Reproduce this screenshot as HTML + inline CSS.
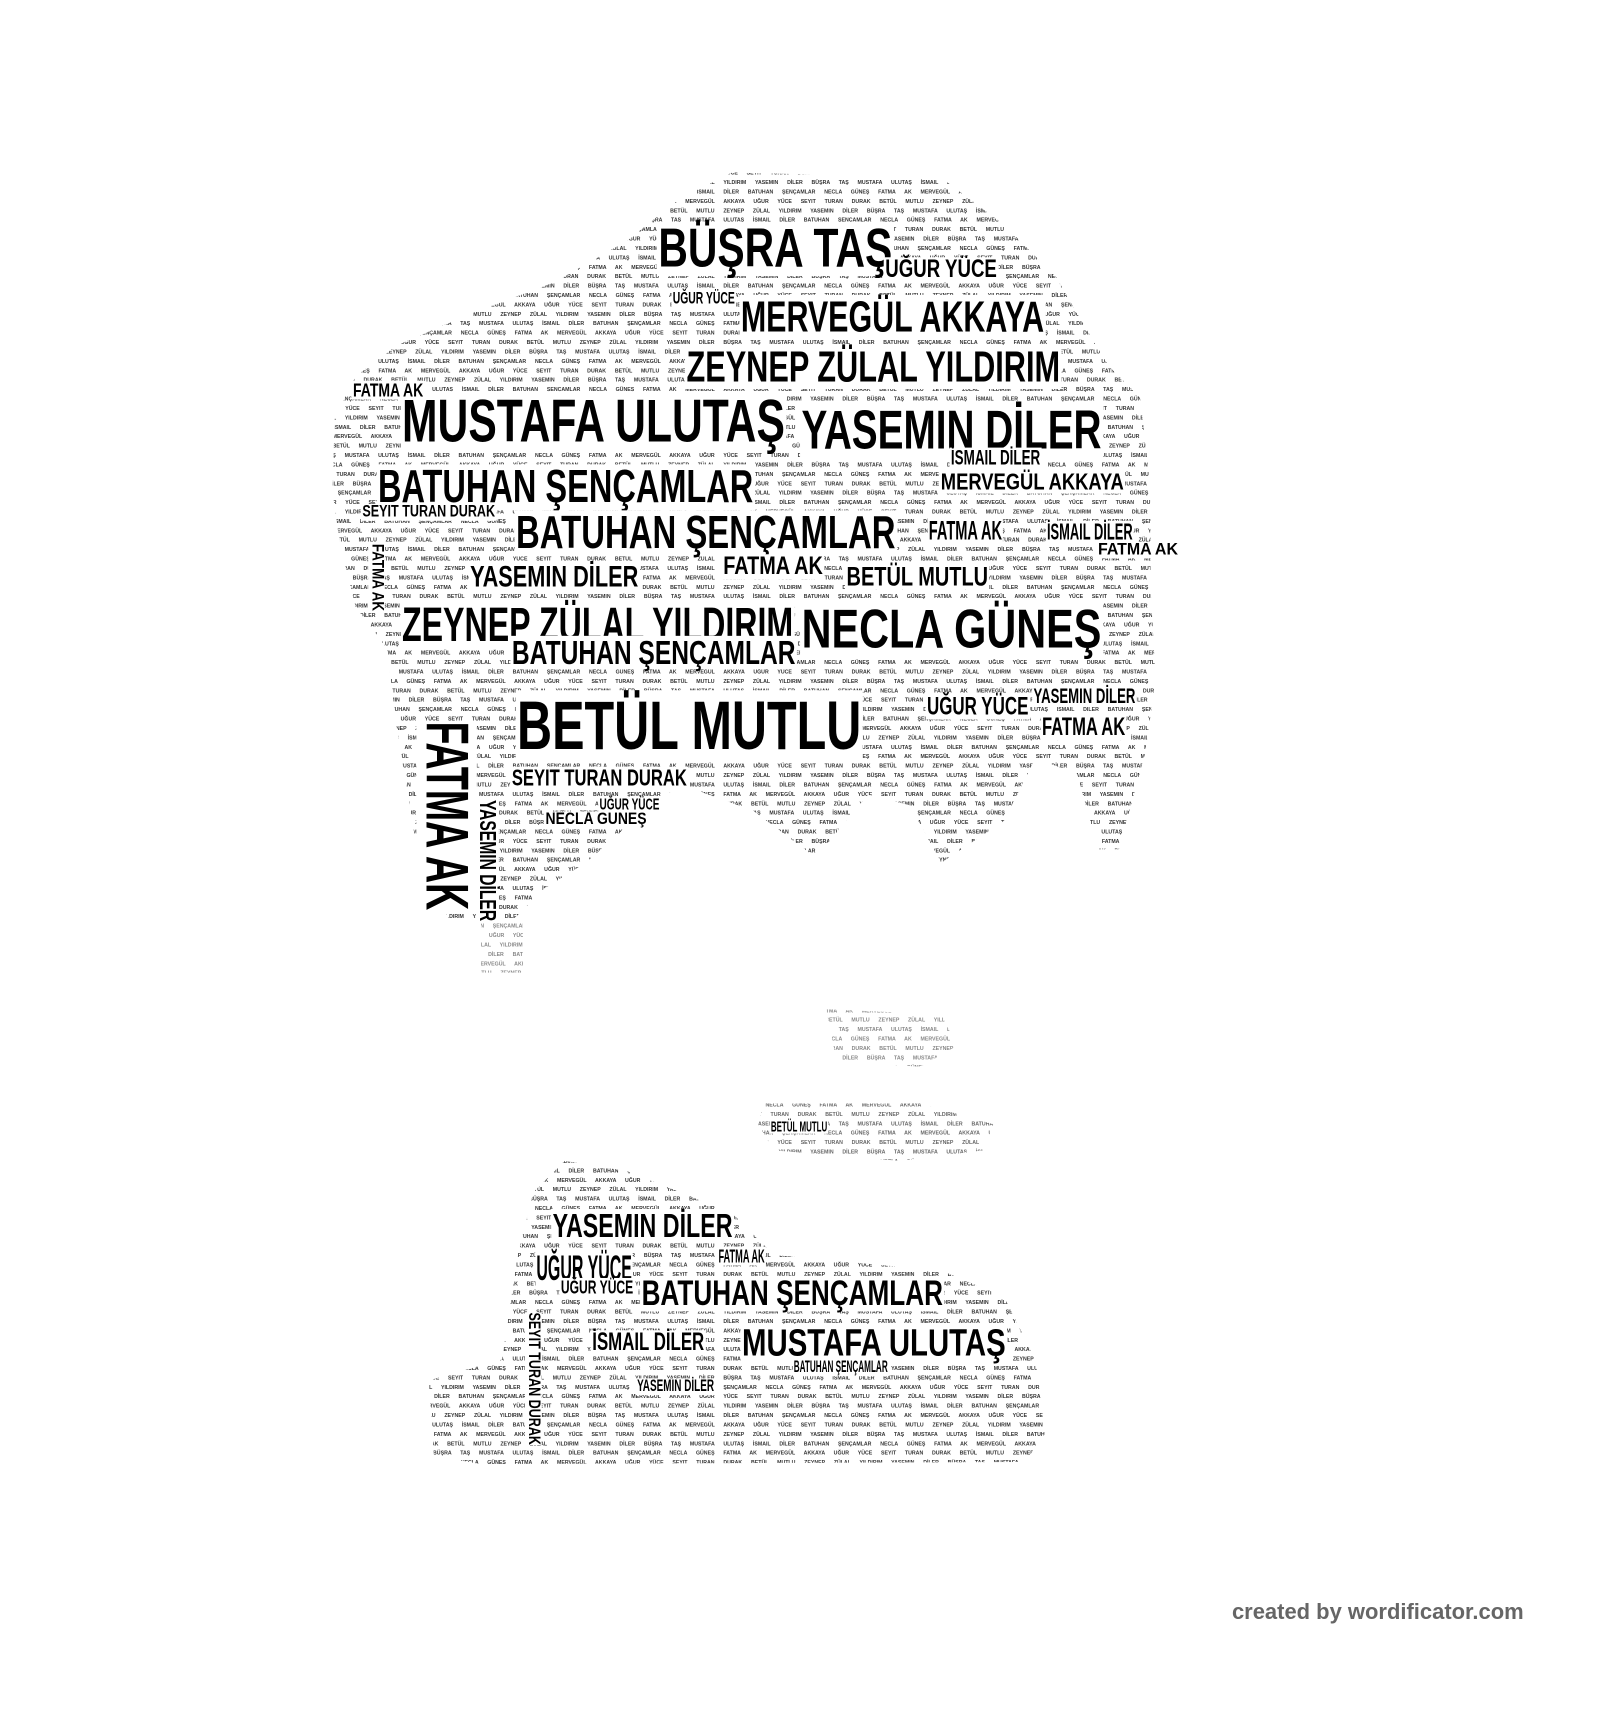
<!DOCTYPE html>
<html><head><meta charset="utf-8">
<style>
html,body{margin:0;padding:0;background:#fff;}
body{width:1600px;height:1640px;position:relative;overflow:hidden;font-family:"Liberation Sans",Arial,sans-serif;font-weight:bold;}
#s{position:absolute;left:0;top:0;width:1600px;height:1640px;transform-origin:0 0;transform:scale(1.0458);}
.f{position:absolute;left:0;top:0;width:1600px;height:1640px;font-size:5px;line-height:9px;color:#333;word-spacing:7px;overflow:hidden;}
.w{position:absolute;white-space:nowrap;line-height:1;background:#fff;color:#000;transform-origin:0 0;padding:0 2px;}
.v{position:absolute;white-space:nowrap;line-height:1;color:#000;}
.foot{position:absolute;left:1178px;top:1530px;font-size:21px;color:#666;font-weight:bold;}
</style></head><body>
<div id="s">
<div class="f" id="f1" style="clip-path:polygon(700px 165px,900px 170px,960px 215px,1010px 265px,1030px 300px,1060px 350px,1090px 380px,1095px 420px,1100px 470px,1100px 560px,1105px 650px,1095px 720px,1070px 812px,1050px 812px,1030px 740px,990px 725px,960px 785px,900px 825px,870px 770px,830px 760px,780px 820px,720px 775px,650px 750px,600px 790px,560px 825px,520px 850px,490px 880px,430px 880px,400px 820px,380px 700px,370px 620px,340px 580px,325px 520px,318px 470px,320px 400px,340px 360px,380px 330px,450px 300px,530px 270px,600px 230px,650px 190px);"></div>
<div class="f" id="f2" style="clip-path:polygon(540px 1110px,600px 1120px,700px 1160px,740px 1200px,900px 1215px,960px 1240px,990px 1300px,1000px 1370px,980px 1398px,460px 1400px,415px 1392px,410px 1320px,480px 1300px,495px 1200px,510px 1140px);"></div>
<div class="f" id="f3" style="color:#666;clip-path:polygon(730px 1055px,880px 1055px,950px 1075px,940px 1100px,860px 1110px,740px 1100px,725px 1075px);"></div>
<div class="f" id="f4" style="color:#888;clip-path:polygon(790px 965px,900px 970px,915px 1000px,880px 1020px,800px 1015px);"></div>
<div class="f" id="f5" style="color:#888;clip-path:polygon(460px 880px,500px 880px,500px 930px,460px 930px);"></div>

<div class="w" data-w="227" style="left:628px;top:212px;font-size:52px">BÜŞRA TAŞ</div>
<div class="w" data-w="293" style="left:707px;top:282px;font-size:42px">MERVEGÜL AKKAYA</div>
<div class="w" data-w="360" style="left:655px;top:330px;font-size:42px">ZEYNEP ZÜLAL YILDIRIM</div>
<div class="w" data-w="369" style="left:383px;top:374px;font-size:58px">MUSTAFA ULUTAŞ</div>
<div class="w" data-w="290" style="left:765px;top:386px;font-size:52px">YASEMIN DİLER</div>
<div class="w" data-w="362" style="left:360px;top:444px;font-size:44px">BATUHAN ŞENÇAMLAR</div>
<div class="w" data-w="366" style="left:492px;top:488px;font-size:44px">BATUHAN ŞENÇAMLAR</div>
<div class="w" data-w="377" style="left:383px;top:574px;font-size:46px">ZEYNEP ZÜLAL YILDIRIM</div>
<div class="w" data-w="290" style="left:765px;top:576px;font-size:52px">NECLA GÜNEŞ</div>
<div class="w" data-w="274" style="left:488px;top:608px;font-size:32px">BATUHAN ŞENÇAMLAR</div>
<div class="w" data-w="332" style="left:493px;top:660px;font-size:66px">BETÜL MUTLU</div>
<div class="w" data-w="164" style="left:448px;top:538px;font-size:28px">YASEMIN DİLER</div>
<div class="w" data-w="110" style="left:845px;top:246px;font-size:24px">UĞUR YÜCE</div>
<div class="w" data-w="84" style="left:1000px;top:498px;font-size:22px">İSMAIL DİLER</div>
<div class="w" data-w="178" style="left:898px;top:450px;font-size:22px">MERVEGÜL AKKAYA</div>
<div class="w" data-w="138" style="left:808px;top:538px;font-size:26px">BETÜL MUTLU</div>
<div class="w" data-w="98" style="left:690px;top:530px;font-size:24px">FATMA AK</div>
<div class="w" data-w="72" style="left:887px;top:494px;font-size:26px">FATMA AK</div>
<div class="w" data-w="88" style="left:908px;top:428px;font-size:20px">İSMAIL DİLER</div>
<div class="w" data-w="170" style="left:488px;top:733px;font-size:22px">SEYIT TURAN DURAK</div>
<div class="w" data-w="100" style="left:987px;top:656px;font-size:20px">YASEMIN DİLER</div>
<div class="w" data-w="100" style="left:885px;top:664px;font-size:24px">UĞUR YÜCE</div>
<div class="w" data-w="82" style="left:995px;top:684px;font-size:24px">FATMA AK</div>
<div class="w" data-w="130" style="left:345px;top:482px;font-size:16px">SEYIT TURAN DURAK</div>
<div class="w" data-w="70" style="left:336px;top:364px;font-size:18px">FATMA AK</div>
<div class="w" data-w="80" style="left:1048px;top:518px;font-size:16px">FATMA AK</div>
<div class="w" data-w="62" style="left:642px;top:278px;font-size:16px">UĞUR YÜCE</div>
<div class="w" data-w="100" style="left:520px;top:776px;font-size:16px">NECLA GÜNEŞ</div>
<div class="w" data-w="60" style="left:572px;top:762px;font-size:15px">UĞUR YÜCE</div>
<div class="w" data-w="175" style="left:527px;top:1156px;font-size:32px">YASEMIN DİLER</div>
<div class="w" data-w="93" style="left:512px;top:1196px;font-size:34px">UĞUR YÜCE</div>
<div class="w" data-w="291" style="left:612px;top:1220px;font-size:34px">BATUHAN ŞENÇAMLAR</div>
<div class="w" data-w="255" style="left:708px;top:1266px;font-size:36px">MUSTAFA ULUTAŞ</div>
<div class="w" data-w="110" style="left:565px;top:1272px;font-size:24px">İSMAIL DİLER</div>
<div class="w" data-w="72" style="left:535px;top:1222px;font-size:18px">UĞUR YÜCE</div>
<div class="w" data-w="76" style="left:608px;top:1318px;font-size:16px">YASEMIN DİLER</div>
<div class="w" data-w="92" style="left:758px;top:1300px;font-size:16px">BATUHAN ŞENÇAMLAR</div>
<div class="w" data-w="46" style="left:686px;top:1192px;font-size:18px">FATMA AK</div>
<div class="w" data-w="56" style="left:736px;top:1070px;font-size:14px">BETÜL MUTLU</div>

<div class="v" style="left:398px;top:690px;font-size:58px;"><span style="display:inline-block;transform-origin:0 0;transform:translate(58px,0) rotate(90deg) scaleX(0.62);background:#fff">FATMA AK</span></div>
<div class="v" style="left:455px;top:765px;font-size:22px;"><span style="display:inline-block;transform-origin:0 0;transform:translate(22px,0) rotate(90deg) scaleX(0.68);background:#fff">YASEMIN DİLER</span></div>
<div class="v" style="left:352px;top:520px;font-size:16px;"><span style="display:inline-block;transform-origin:0 0;transform:translate(16px,0) rotate(90deg) scaleX(.8);background:#fff">FATMA AK</span></div>
<div class="v" style="left:502px;top:1255px;font-size:16px;"><span style="display:inline-block;transform-origin:0 0;transform:translate(16px,0) rotate(90deg) scaleX(.75);background:#fff">SEYIT TURAN DURAK</span></div>

<div class="foot">created by wordificator.com</div>
</div>
<script>
var words=["FATMA AK","BÜŞRA TAŞ","UĞUR YÜCE","İSMAIL DİLER","BETÜL MUTLU","NECLA GÜNEŞ","YASEMIN DİLER","MERVEGÜL AKKAYA","MUSTAFA ULUTAŞ","SEYIT TURAN DURAK","BATUHAN ŞENÇAMLAR","ZEYNEP ZÜLAL YILDIRIM"];
var s="";for(var i=0;i<9000;i++){s+=words[(i*7+3)%words.length]+" ";}
["f1","f2","f3","f4","f5"].forEach(function(id){document.getElementById(id).textContent=s;});
document.querySelectorAll(".w").forEach(function(e){var w=+e.getAttribute("data-w");var ow=e.offsetWidth;if(ow>0)e.style.transform="scaleX("+(w/ow)+")";});
</script>
</body></html>
